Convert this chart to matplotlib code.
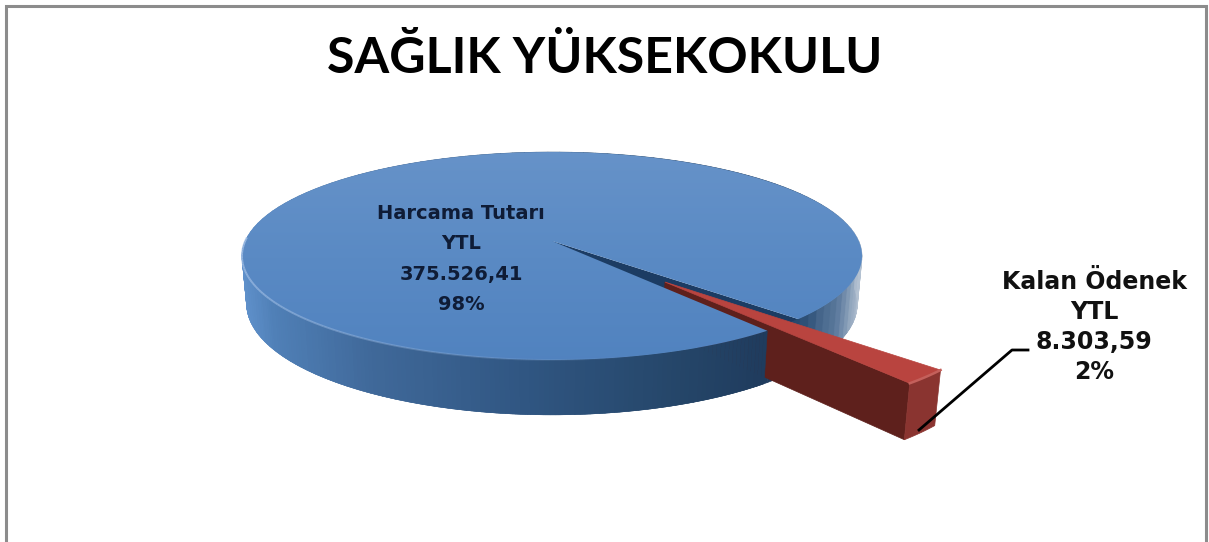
"""3D looking pie chart, SAGLIK YUKSEKOKULU budget."""

import numpy as np
import matplotlib
matplotlib.use("Agg")
import matplotlib.pyplot as plt
from matplotlib.collections import PolyCollection
from matplotlib.colors import LinearSegmentedColormap
from matplotlib.patches import Polygon

title = "SAĞLIK YÜKSEKOKULU"
categories = ["Harcama Tutarı\nYTL", "Kalan Ödenek\nYTL"]
values = [375526.41, 8303.59]
value_labels = ["375.526,41", "8.303,59"]
percent_labels = ["98%", "2%"]
explode = [0, 0.516]

# projection of the unit pie onto the canvas (pixels)
CX, CY = 552, 241
A, B = 306.8, 101.8
K = 0.144
H = 47

plt.rcParams["font.family"] = ["DejaVu Sans"]


def project(x, y, z=0.0):
    x = np.asarray(x, dtype=float)
    y = np.asarray(y, dtype=float)
    s = 1 / (1 + K * y)
    return CX + A * x * s * (1 - 0.015 * z), CY - B * y * s + H * z * s


def arc(wedge, t1, t2, n=200):
    t = np.radians(np.linspace(t1, t2, n))
    return wedge.center[0] + wedge.r * np.cos(t), wedge.center[1] + wedge.r * np.sin(t)


def top_poly(wedge):
    x, y = arc(wedge, wedge.theta1, wedge.theta2)
    x = np.r_[wedge.center[0], x]
    y = np.r_[wedge.center[1], y]
    return np.column_stack(project(x, y))


def cut_face(wedge, theta):
    x, y = arc(wedge, theta, theta, 1)
    cx, cy = wedge.center
    px = np.array([cx, x[0], x[0], cx])
    py = np.array([cy, y[0], y[0], cy])
    sx, sy = project(px, py, np.array([0, 0, 1, 1]))
    return np.column_stack([sx, sy])


def rim(ax, wedge, t1, t2, cmap, zorder):
    x, y = arc(wedge, t1, t2, 160)
    x0, y0 = project(x, y, 0)
    x1, y1 = project(x, y, 1)
    quads = []
    shades = []
    for i in range(len(x) - 1):
        quads.append([(x0[i], y0[i]), (x0[i + 1], y0[i + 1]), (x1[i + 1], y1[i + 1]), (x1[i], y1[i])])
        shades.append(cmap(np.clip((x0[i] - 242) / 621, 0, 1)))
    ax.add_collection(PolyCollection(quads, facecolors=shades, edgecolors=shades, linewidths=0.4, zorder=zorder))


fig = plt.figure(figsize=(12.09, 5.42), dpi=100)

# the library works out the slices, they get redrawn in perspective below
pie_ax = fig.add_axes([0, 0, 1, 1])
wedges, _ = pie_ax.pie(values, explode=explode, startangle=-43.7, radius=1)
pie_ax.set_visible(False)
blue, red = wedges

ax = fig.add_axes([0, 0, 1, 1])

rim_cmap = LinearSegmentedColormap.from_list("rim", [
    (0.00, "#5f90ca"), (0.05, "#4f7fb6"), (0.20, "#40699a"), (0.45, "#305682"),
    (0.70, "#254669"), (0.85, "#1f3b5d"), (0.90, "#2c4e75"), (0.96, "#5e7c9f"), (1.00, "#b4c2d2"),
])
top_cmap = LinearSegmentedColormap.from_list("top", ["#6793c9", "#5a8ac4", "#5082bf"])

# back to front
ax.add_patch(Polygon(cut_face(blue, blue.theta1), closed=True, facecolor="#1c3c63", edgecolor="none", zorder=1))
rim(ax, blue, blue.theta1, 360, rim_cmap, 2)
ax.add_patch(Polygon(cut_face(red, red.theta1), closed=True, facecolor="#5e201c", edgecolor="#5e201c", lw=0.5, zorder=3))
rim(ax, blue, 180, blue.theta2, rim_cmap, 4)

top_clip = Polygon(top_poly(blue), closed=True, facecolor="none", edgecolor="none", zorder=5)
ax.add_patch(top_clip)
grad = ax.imshow(np.linspace(0, 1, 256).reshape(-1, 1), cmap=top_cmap, extent=(230, 880, 370, 145),
                 aspect="auto", zorder=5, interpolation="bilinear")
grad.set_clip_path(top_clip)

# light edge where the top meets the rim
ex, ey = arc(blue, 178, 285, 120)
sx, sy = project(ex, ey)
for i in range(len(sx) - 1):
    fade = 1 - i / (len(sx) - 1)
    ax.plot(sx[i:i + 2], sy[i:i + 2], color="#a3c0e6", lw=1.4, alpha=0.85 * fade, solid_capstyle="butt", zorder=6)

# exploded slice
ox, oy = arc(red, red.theta1, red.theta2, 30)
s0 = np.column_stack(project(ox, oy, 0))
s1 = np.column_stack(project(ox, oy, 1))
ax.add_patch(Polygon(np.vstack([s0, s1[::-1]]), closed=True, facecolor="#8a3430", edgecolor="#8a3430", lw=0.5, zorder=7))
ax.add_patch(Polygon(top_poly(red), closed=True, facecolor="#b9443f", edgecolor="#b9443f", lw=0.5, zorder=8))
ax.plot(s0[:, 0], s0[:, 1], color="#c4605b", lw=1.8, zorder=8)

# frame, its bottom side falls off the picture
ax.plot([6, 6, 1206, 1206], [560, 6, 6, 560], color="#8c8c8c", lw=2.2, zorder=9, solid_joinstyle="miter")

ax.text(605, 58, title, ha="center", va="center", fontsize=36, fontweight="bold", color="#000000",
        family=["Lato", "DejaVu Sans"], zorder=10)

ax.text(461, 259, f"{categories[0]}\n{value_labels[0]}\n{percent_labels[0]}", ha="center", va="center",
        fontsize=14, fontweight="bold", color="#0f1c36", linespacing=1.77, zorder=10)
ax.text(1094, 327, f"{categories[1]}\n{value_labels[1]}\n{percent_labels[1]}", ha="center", va="center",
        fontsize=17, fontweight="bold", color="#111111", linespacing=1.33, zorder=10)

# leader line of the small slice
ax.plot([919, 1012, 1028], [430, 350, 350], color="#000000", lw=2, zorder=9)

ax.set_xlim(0, 1209)
ax.set_ylim(542, 0)
ax.axis("off")

fig.savefig("out.png", dpi=100, facecolor="white")
